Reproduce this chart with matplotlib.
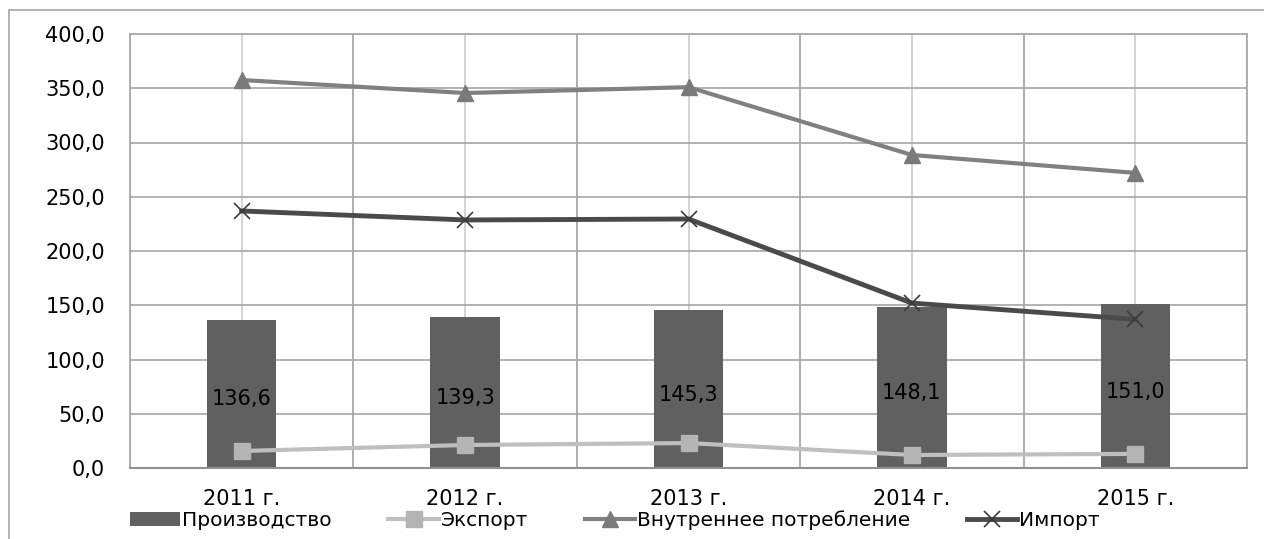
import matplotlib.pyplot as plt
import numpy as np
from matplotlib.patches import Rectangle
from matplotlib.ticker import FuncFormatter, MultipleLocator

years = ['2011 г.', '2012 г.', '2013 г.', '2014 г.', '2015 г.']
production = [136.6, 139.3, 145.3, 148.1, 151.0]
export = [15.7, 21.2, 23.0, 12.0, 13.0]
consumption = [357.6, 345.6, 351.0, 288.5, 272.0]
imports = [236.9, 228.6, 229.5, 152.0, 137.0]

plt.rcParams['font.family'] = ['DejaVu Sans']
fs = 15

fig = plt.figure(figsize=(12.64, 5.39), dpi=100)
ax = fig.add_axes([130 / 1264, 71 / 539, 1117 / 1264, 434 / 539])

x = np.arange(len(years))
bars = ax.bar(x, production, width=0.31, color='#606060', label='Производство', zorder=2)
ax.bar_label(bars, labels=[f'{v:.1f}'.replace('.', ',') for v in production],
             label_type='center', fontsize=fs, color='black', padding=-4)
l1, = ax.plot(x, export, color='#bfbfbf', lw=3, marker='s', ms=11, mfc='#b4b4b4', mec='#b4b4b4',
              label='Экспорт', zorder=3)
l2, = ax.plot(x, consumption, color='#808080', lw=3, marker='^', ms=12, mfc='#7a7a7a', mec='#7a7a7a',
              label='Внутреннее потребление', zorder=3)
l3, = ax.plot(x, imports, color='#4a4a4a', lw=3.5, marker='x', ms=11, mew=1.2, mec='#3a3a3a',
              label='Импорт', zorder=3)

ax.set_xlim(-0.5, 4.5)
ax.set_ylim(0, 400)
ax.yaxis.set_major_locator(MultipleLocator(50))
ax.yaxis.set_major_formatter(FuncFormatter(lambda v, p: f'{v:.1f}'.replace('.', ',')))
ax.set_xticks(x)
ax.set_xticklabels(years, fontsize=fs)
ax.tick_params(axis='y', labelsize=fs, length=0, pad=18)
ax.tick_params(axis='x', length=0, pad=15)

ax.set_xticks(np.arange(-0.5, 5, 1), minor=True)
ax.grid(axis='y', color='#a6a6a6', lw=1.2, zorder=0)
ax.grid(axis='x', which='major', color='#cccccc', lw=1.2, zorder=0)
ax.grid(axis='x', which='minor', color='#a0a0a0', lw=1.2, zorder=0)
ax.tick_params(axis='x', which='minor', length=0)
ax.set_axisbelow(True)
for s in ['top', 'right', 'left']:
    ax.spines[s].set_color('#a6a6a6')
    ax.spines[s].set_linewidth(1.2)
ax.spines['bottom'].set_color('#909090')
ax.spines['bottom'].set_linewidth(1.5)

fig.legend([bars, l1, l2, l3], ['Производство', 'Экспорт', 'Внутреннее потребление', 'Импорт'],
           loc='center left', bbox_to_anchor=(130 / 1264, 19 / 539), ncol=4, frameon=False,
           fontsize=14.5, handlelength=2.5, handletextpad=0.1, columnspacing=2.8,
           borderpad=0, borderaxespad=0)

fig.patches.append(Rectangle((9 / 1264, -0.1), 1.2, (529 / 539) + 0.1, transform=fig.transFigure,
                             fill=False, ec='#a6a6a6', lw=1.2))

fig.savefig('out.png', dpi=100)
